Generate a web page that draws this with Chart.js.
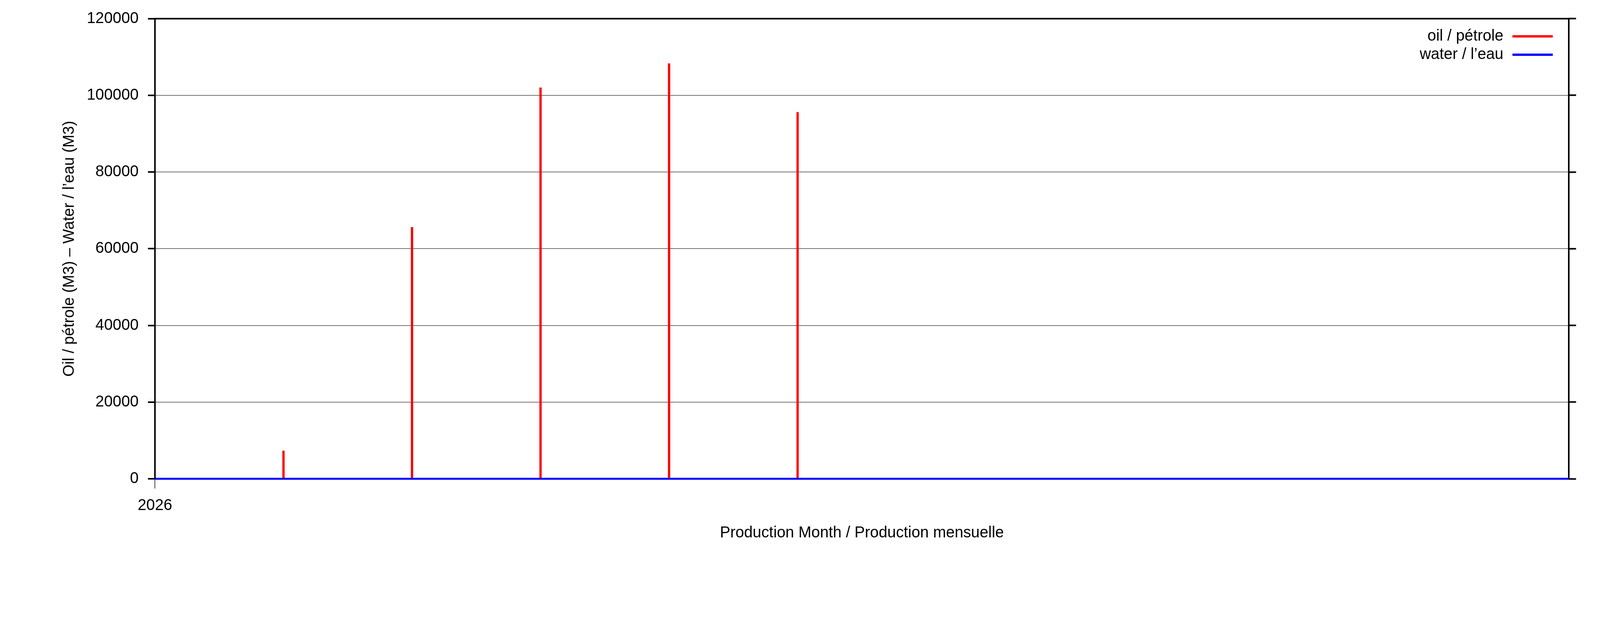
<!DOCTYPE html>
<html>
<head>
<meta charset="utf-8">
<script src="https://cdn.jsdelivr.net/npm/chart.js@4.4.1/dist/chart.umd.min.js"></script>
<style>
  html, body { margin: 0; padding: 0; background: #fff; overflow: hidden; }
  #wrap { position: relative; width: 100vw; height: 100vh; }
  canvas { display: block; }
</style>
</head>
<body>
<div id="wrap"><canvas id="prodChart"></canvas></div>
<script>
// months counted from Jan 2026
const oilMonths = [1, 2, 3, 4, 5];
const oilValues = [7300, 65600, 102000, 108300, 95600];
const waterMonths = [0, 11];
const waterValues = [0, 0];
const xTickValues = [0];
const xTickLabels = ['2026'];
const yTicks = [0, 20000, 40000, 60000, 80000, 100000, 120000];

const FONT = 'Liberation Sans, Arial, sans-serif';

// reference layout measured on a 5483 x 1594 picture, scaled to the window
const W = window.innerWidth, H = window.innerHeight;
const sx = W / 5483, sy = H / 1594;
const PLOT = { left: 531 * sx, right: 5376 * sx, top: 46 * sy, bottom: 1225 * sy };
const fontSize = 46 * Math.sqrt(sx * sy);
const lineH = fontSize * 1.2;

Chart.defaults.font.family = FONT;
Chart.defaults.font.size = fontSize;
Chart.defaults.color = '#000';

// gnuplot style frame + legend with text left of the line sample
const framePlugin = {
  id: 'frame',
  beforeDatasetsDraw(chart) {
    const { ctx, chartArea: a } = chart;
    ctx.save();
    ctx.strokeStyle = '#000';
    ctx.lineWidth = 4 * sy;
    ctx.strokeRect(a.left, a.top, a.right - a.left, a.bottom - a.top);
    ctx.restore();
  },
  afterDraw(chart) {
    const { ctx } = chart;
    const textRight = 5152 * sx, lineX0 = 5183 * sx, lineX1 = 5321 * sx;
    const rows = [93 * sy, 140 * sy];
    ctx.save();
    ctx.font = fontSize + 'px ' + FONT;
    ctx.textAlign = 'right';
    ctx.textBaseline = 'middle';
    chart.data.datasets.forEach((ds, i) => {
      const y = rows[i];
      ctx.fillStyle = '#000';
      ctx.fillText(ds.label, textRight, y);
      ctx.strokeStyle = ds.borderColor;
      ctx.lineWidth = 6 * sy;
      ctx.beginPath();
      ctx.moveTo(lineX0, y);
      ctx.lineTo(lineX1, y);
      ctx.stroke();
    });
    ctx.restore();
  }
};

new Chart(document.getElementById('prodChart'), {
  type: 'bar',
  data: {
    datasets: [{
      type: 'bar',
      label: 'oil / pétrole',
      data: oilMonths.map((m, i) => ({ x: m, y: oilValues[i] })),
      backgroundColor: '#ff0000',
      borderColor: '#ff0000',
      borderWidth: 0,
      barThickness: Math.max(2, 7 * sx),
      order: 2
    }, {
      type: 'line',
      label: 'water / l’eau',
      data: waterMonths.map((m, i) => ({ x: m, y: waterValues[i] })),
      borderColor: '#0000ff',
      borderWidth: 5 * sy,
      pointRadius: 0,
      clip: 10,
      order: 1
    }]
  },
  options: {
    responsive: true,
    maintainAspectRatio: false,
    animation: false,
    layout: { padding: { top: PLOT.top, right: 0, bottom: 0, left: 0 } },
    plugins: {
      legend: { display: false },
      tooltip: { enabled: false }
    },
    scales: {
      x: {
        type: 'linear',
        min: 0,
        max: 11,
        offset: false,
        afterFit(scale) { scale.height = H - PLOT.bottom; },
        afterBuildTicks(scale) { scale.ticks = xTickValues.map(v => ({ value: v })); },
        ticks: {
          padding: 20 * sy,
          maxRotation: 0,
          autoSkip: false,
          callback: (v) => xTickLabels[xTickValues.indexOf(v)] || ''
        },
        grid: {
          offset: false,
          drawOnChartArea: false,
          drawTicks: true,
          tickLength: 25 * sy,
          tickColor: '#000',
          tickWidth: 2 * sx
        },
        border: { display: false },
        title: {
          display: true,
          text: 'Production Month / Production mensuelle',
          font: { size: fontSize },
          padding: { top: 0, bottom: H - 1364 * sy - lineH / 2 }
        }
      },
      y: {
        position: 'left',
        min: 0,
        max: 120000,
        afterFit(scale) { scale.width = PLOT.left; },
        afterBuildTicks(scale) { scale.ticks = yTicks.map(v => ({ value: v })); },
        ticks: { padding: 32 * sx, callback: (v) => String(v) },
        grid: {
          drawTicks: true,
          tickLength: 24 * sx,
          tickColor: '#000',
          tickWidth: 4 * sy,
          tickBorderDash: [],
          lineWidth: 2 * sy,
          borderDash: [6 * sx, 6 * sx],
          color: (c) => (c.tick && (c.tick.value === 0 || c.tick.value === 120000)) ? 'rgba(0,0,0,0)' : 'rgba(0,0,0,0.55)'
        },
        border: { display: false },
        title: {
          display: true,
          text: 'Oil / pétrole (M3) – Water / l’eau (M3)',
          font: { size: fontSize },
          padding: { top: 238 * sx - lineH / 2, bottom: 0 }
        }
      },
      y2: {
        position: 'right',
        min: 0,
        max: 120000,
        afterFit(scale) { scale.width = W - PLOT.right; },
        afterBuildTicks(scale) { scale.ticks = yTicks.map(v => ({ value: v })); },
        ticks: { callback: () => '' },
        grid: {
          drawOnChartArea: false,
          drawTicks: true,
          tickLength: 25 * sx,
          tickColor: '#000',
          tickWidth: 4 * sy
        },
        border: { display: false }
      }
    }
  },
  plugins: [framePlugin]
});
</script>
</body>
</html>
